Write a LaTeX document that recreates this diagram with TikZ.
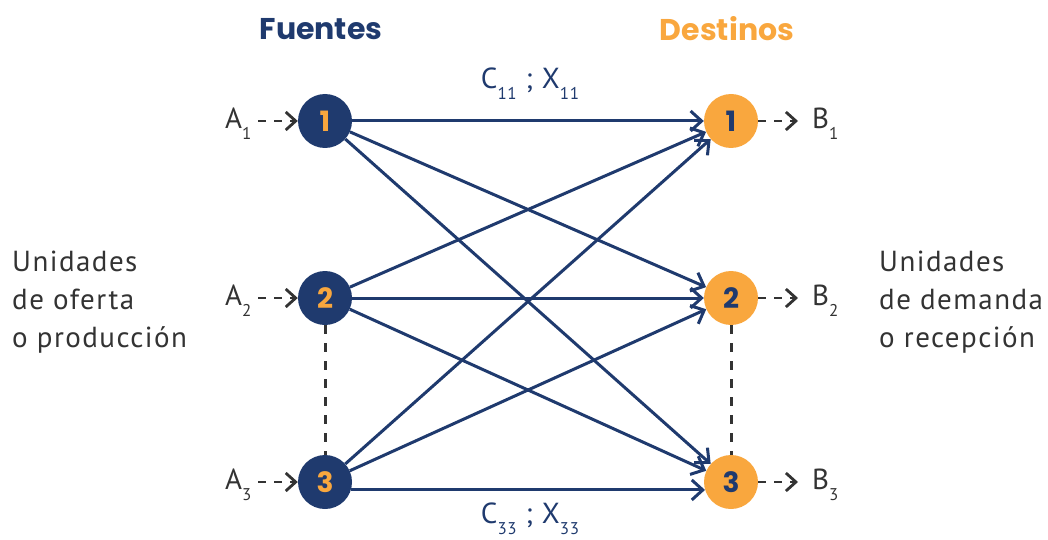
\documentclass[tikz,border=0pt]{standalone}
\usepackage{fontspec}
\setmainfont{PT Sans}
\newfontfamily\headfont{Poppins}
\usetikzlibrary{arrows.meta}
\definecolor{navy}{HTML}{1F3A6E}
\definecolor{amber}{HTML}{F9A73E}
\definecolor{ink}{HTML}{333333}
\newcommand\lowsub[1]{\raisebox{-0.38em}{\fontsize{17}{17}\selectfont #1}}
\tikzset{
  src/.style={circle, fill=navy, minimum size=54pt, inner sep=0pt,
    text=amber, font=\headfont\bfseries\fontsize{28}{28}\selectfont},
  dst/.style={circle, fill=amber, minimum size=54pt, inner sep=0pt,
    text=navy, font=\headfont\bfseries\fontsize{28}{28}\selectfont},
  flow/.style={draw=navy, line width=3pt,
    -{Straight Barb[length=11pt,width=20pt,line width=3pt]}},
  feed/.style={draw=ink, line width=2.8pt, dash pattern=on 8pt off 8pt,
    -{Straight Barb[length=10pt,width=18pt,line width=2.8pt]}},
  link/.style={draw=ink, line width=3pt, dash pattern=on 9pt off 9pt},
  tag/.style={text=ink, font=\fontsize{29}{29}\selectfont\addfontfeatures{LetterSpace=4}, inner sep=0pt},
  cost/.style={text=navy, font=\fontsize{29}{29}\selectfont\addfontfeatures{LetterSpace=4}, inner sep=0pt},
  side/.style={text=ink, align=left, anchor=west, inner sep=0pt,
    font=\fontsize{29}{38}\selectfont\addfontfeatures{LetterSpace=5}},
  head/.style={font=\headfont\bfseries\fontsize{30}{30}\selectfont, inner sep=0pt}
}
\begin{document}
\begin{tikzpicture}[x=1pt,y=-1pt]
\useasboundingbox (0,0) rectangle (1048,540);

% column headings
\node[head, text=navy] (hsrc) at (321,29) {Fuentes};
\node[head, text=amber] (hdst) at (727,29) {Destinos};

% sources and destinations
\node[src] (l1) at (325,121) {1};
\node[src] (l2) at (325,298) {2};
\node[src] (l3) at (325,482) {3};
\node[dst] (r1) at (731,121) {1};
\node[dst] (r2) at (731,298) {2};
\node[dst] (r3) at (731,482) {3};

% supplies and demands
\node[tag, anchor=west] (a1) at (225,124) {A\lowsub{1}};
\node[tag, anchor=west] (a2) at (225,301) {A\lowsub{2}};
\node[tag, anchor=west] (a3) at (225,485) {A\lowsub{3}};
\node[tag, anchor=west] (b1) at (812,124) {B\lowsub{1}};
\node[tag, anchor=west] (b2) at (812,301) {B\lowsub{2}};
\node[tag, anchor=west] (b3) at (812,485) {B\lowsub{3}};

\coordinate (a1s) at (258,121);
\coordinate (a2s) at (258,298);
\coordinate (a3s) at (258,482);
\coordinate (b1e) at (798,121);
\coordinate (b2e) at (798,298);
\coordinate (b3e) at (798,482);

\draw[feed] (a1s) -- (l1.west);
\draw[feed] (a2s) -- (l2.west);
\draw[feed] (a3s) -- (l3.west);
\draw[feed] (r1.east) -- (b1e);
\draw[feed] (r2.east) -- (b2e);
\draw[feed] (r3.east) -- (b3e);

% more sources / destinations in between
\draw[link] (l2.south) -- (l3.north);
\draw[link] (r2.south) -- (r3.north);

% transport routes
\draw[flow] (l1) -- (r1);
\draw[flow] (l1) -- (r2);
\draw[flow] (l1) -- (r3);
\draw[flow] (l2) -- (r1);
\draw[flow] (l2) -- (r2);
\draw[flow] (l2) -- (r3);
\draw[flow] (l3) -- (r1);
\draw[flow] (l3) -- (r2);
\draw[flow] (l3.-17) -- (r3.197);

% cost / quantity labels
\node[cost] (c11) at (530,84) {C\lowsub{11} ; X\lowsub{11}};
\node[cost] (c33) at (530,519) {C\lowsub{33} ; X\lowsub{33}};

% side descriptions
\node[side] (offer) at (12,302) {Unidades\\de oferta\\o producción};
\node[side] (demand) at (879,302) {Unidades\\de demanda\\o recepción};
\end{tikzpicture}
\end{document}
